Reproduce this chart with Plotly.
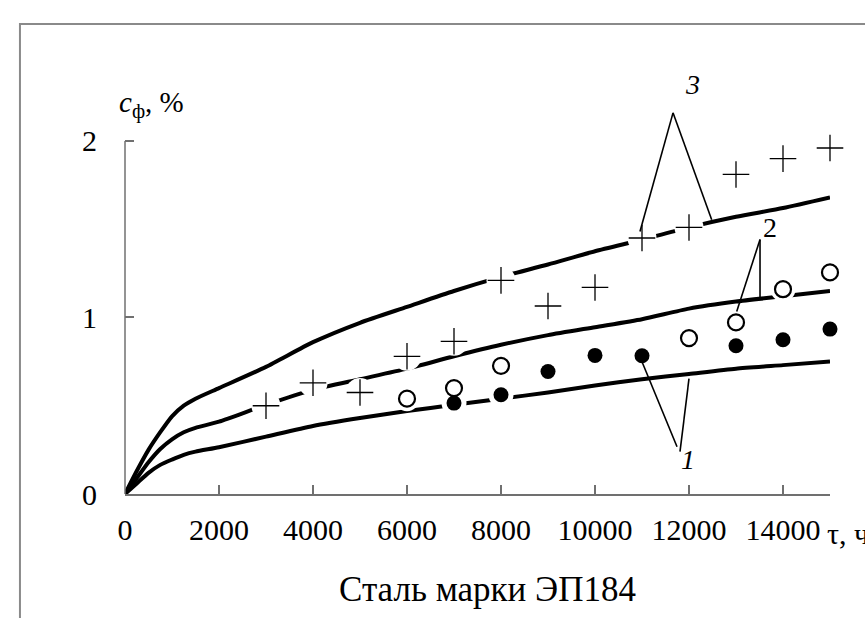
import plotly.graph_objects as go

# ---- data ----
tau_curve = [0, 250, 500, 750, 1000, 1250, 1500, 2000, 3000, 4000, 5000, 6000, 7000,
             8000, 9000, 10000, 11000, 12000, 13000, 14000, 15000]
curve1 = [0, 0.06, 0.12, 0.165, 0.195, 0.222, 0.24, 0.265, 0.325, 0.385, 0.43, 0.47, 0.505,
          0.54, 0.575, 0.615, 0.65, 0.68, 0.71, 0.73, 0.75]
curve2 = [0, 0.09, 0.18, 0.255, 0.31, 0.35, 0.375, 0.41, 0.505, 0.59, 0.65, 0.71, 0.78,
          0.845, 0.90, 0.945, 0.99, 1.05, 1.09, 1.12, 1.15]
curve3 = [0, 0.13, 0.25, 0.35, 0.44, 0.50, 0.54, 0.60, 0.72, 0.86, 0.97, 1.06, 1.15,
          1.23, 1.30, 1.375, 1.44, 1.51, 1.57, 1.62, 1.68]

tau_plus = [3000, 4000, 5000, 6000, 7000, 8000, 9000, 10000, 11000, 12000, 13000, 14000, 15000]
c_plus = [0.50, 0.63, 0.575, 0.78, 0.865, 1.21, 1.065, 1.17, 1.45, 1.51, 1.81, 1.90, 1.96]

tau_open = [6000, 7000, 8000, 12000, 13000, 14000, 15000]
c_open = [0.54, 0.60, 0.726, 0.883, 0.972, 1.16, 1.255]

tau_fill = [7000, 8000, 9000, 10000, 11000, 13000, 14000, 15000]
c_fill = [0.515, 0.562, 0.694, 0.785, 0.783, 0.84, 0.874, 0.934]

x_ticks = [0, 2000, 4000, 6000, 8000, 10000, 12000, 14000]
y_ticks = [0, 1, 2]

# labels of curves: text, position, leader lines (data coords)
labels = [
    dict(text="<i>3</i>", tau=12064, c=2.318,
         lines=[(11660, 2.159, 10957, 1.487), (11660, 2.159, 12483, 1.553)]),
    dict(text="2", tau=13723, c=1.508,
         lines=[(13511, 1.442, 13015, 1.034), (13511, 1.442, 13511, 1.104)]),
    dict(text="<i>1</i>", tau=11979, c=0.194,
         lines=[(11745, 0.268, 11000, 0.749), (11809, 0.240, 12000, 0.653)]),
]

SERIF = "Liberation Serif, Times New Roman, serif"
AXC = "#707070"

fig = go.Figure()

for cv in (curve1, curve2, curve3):
    fig.add_trace(go.Scatter(x=tau_curve, y=cv, mode="lines",
                             line=dict(color="black", width=4, shape="spline", smoothing=0.6),
                             hoverinfo="skip"))

# white halos around markers
fig.add_trace(go.Scatter(x=tau_plus, y=c_plus, mode="markers", marker=dict(symbol="circle", size=29, color="white"),
                         cliponaxis=False, hoverinfo="skip"))
fig.add_trace(go.Scatter(x=tau_fill, y=c_fill, mode="markers", marker=dict(symbol="circle", size=25, color="white"),
                         cliponaxis=False, hoverinfo="skip"))
fig.add_trace(go.Scatter(x=tau_open, y=c_open, mode="markers", marker=dict(symbol="circle", size=25, color="white"),
                         cliponaxis=False, hoverinfo="skip"))

fig.add_trace(go.Scatter(x=tau_plus, y=c_plus, mode="markers",
                         marker=dict(symbol="cross-thin", size=19, color="black", line=dict(color="black", width=1.3)),
                         cliponaxis=False))
fig.add_trace(go.Scatter(x=tau_fill, y=c_fill, mode="markers",
                         marker=dict(symbol="circle", size=15, color="black"), cliponaxis=False))
fig.add_trace(go.Scatter(x=tau_open, y=c_open, mode="markers",
                         marker=dict(symbol="circle-open", size=16, color="black", line=dict(color="black", width=2.2)),
                         cliponaxis=False))

shapes = []
# y axis line (0..2)
shapes.append(dict(type="line", xref="paper", yref="y", x0=0, x1=0, y0=0, y1=2,
                   line=dict(color=AXC, width=1.5)))
# outer frame
shapes.append(dict(type="rect", xref="paper", yref="paper", x0=-0.149, x1=1.2, y0=-0.4, y1=1.024,
                   line=dict(color="#8a8a8a", width=2)))
annotations = []
for lb in labels:
    for (x0, y0, x1, y1) in lb["lines"]:
        shapes.append(dict(type="line", xref="x", yref="y", x0=x0, y0=y0, x1=x1, y1=y1,
                           line=dict(color="black", width=1.6)))
    annotations.append(dict(x=lb["tau"], y=lb["c"], xref="x", yref="y", text=lb["text"], showarrow=False,
                            font=dict(family=SERIF, size=28, color="black")))

# y-axis label
annotations.append(dict(x=(117 - 125) / 705, y=(494 - 104) / 459, xref="paper", yref="paper",
                        xanchor="left", yanchor="middle", showarrow=False,
                        text="<i>c</i><sub>ф</sub>, %", font=dict(family=SERIF, size=29, color="black")))
# x-axis label (cut by the right edge, as in the original)
annotations.append(dict(x=(825 - 125) / 705, y=(494 - 533) / 459, xref="paper", yref="paper",
                        xanchor="left", yanchor="middle", showarrow=False,
                        text="τ, ч", font=dict(family=SERIF, size=30, color="black")))
# caption
annotations.append(dict(x=(487 - 125) / 705, y=(494 - 589) / 459, xref="paper", yref="paper",
                        xanchor="center", yanchor="middle", showarrow=False,
                        text="Сталь марки ЭП184", font=dict(family=SERIF, size=35, color="black")))

fig.update_layout(
    width=865, height=618,
    margin=dict(l=125, r=35, t=35, b=124),
    paper_bgcolor="white", plot_bgcolor="white",
    showlegend=False,
    shapes=shapes, annotations=annotations,
    xaxis=dict(range=[0, 15000], tickvals=x_ticks, ticktext=[str(v) for v in x_ticks],
               ticks="inside", ticklen=9, tickwidth=1.5, tickcolor=AXC,
               showline=True, linecolor=AXC, linewidth=1.5, showgrid=False, zeroline=False,
               tickfont=dict(family=SERIF, size=30, color="black"), ticklabelstandoff=8),
    yaxis=dict(range=[0, 2.6], tickvals=y_ticks, ticktext=[str(v) for v in y_ticks],
               ticks="inside", ticklen=9, tickwidth=1.5, tickcolor=AXC,
               showline=False, showgrid=False, zeroline=False,
               tickfont=dict(family=SERIF, size=30, color="black"), ticklabelstandoff=27),
)

fig.write_html("out.html")
